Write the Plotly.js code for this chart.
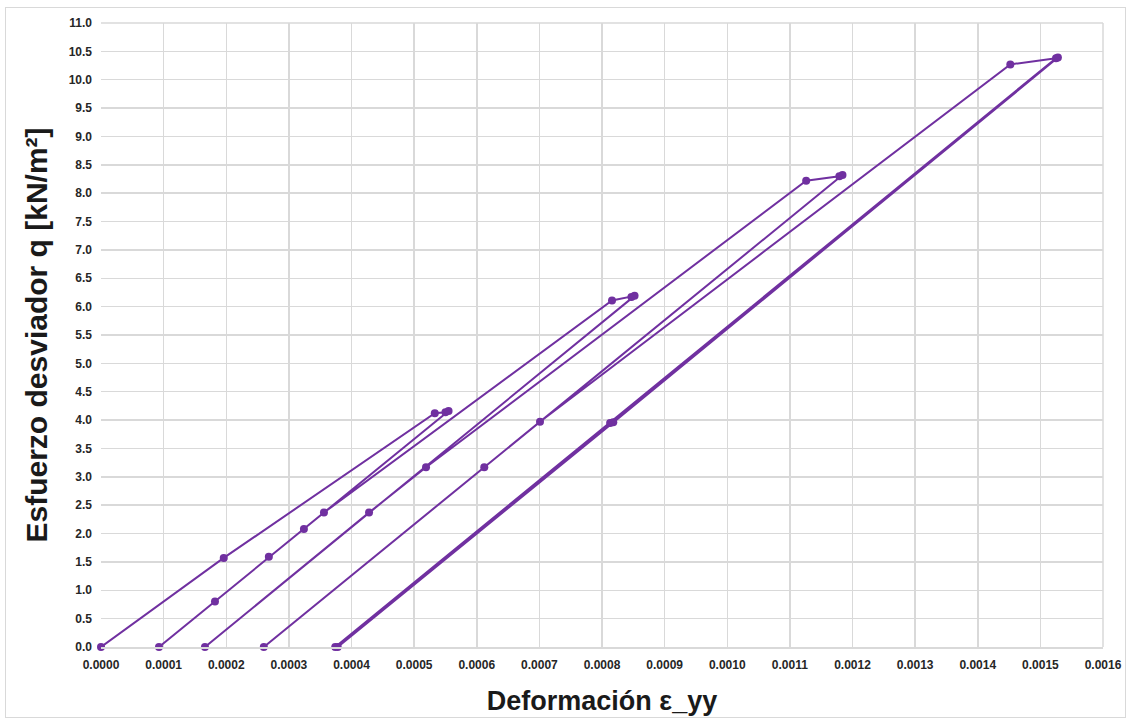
<!DOCTYPE html>
<html>
<head>
<meta charset="utf-8">
<script src="https://cdn.plot.ly/plotly-3.0.1.min.js"></script>
<style>
  html, body { margin: 0; padding: 0; background: #ffffff; }
  #frame { position: absolute; left: 5px; top: 7px; width: 1121px; height: 711px; border: 1px solid #d9d9d9; box-sizing: border-box; }
  #chart { position: absolute; left: 0; top: 0; width: 1132px; height: 724px; }
</style>
</head>
<body>
<div id="frame"></div>
<div id="chart"></div>
<script>
// Deformación ε_yy (strain) and Esfuerzo desviador q [kN/m²], in path order
const strain = [
  0.0000000, 0.000196, 0.000533, 0.000550, 0.000555,
  0.0000926, 0.000182, 0.000268, 0.000324, 0.000356,
  0.000816, 0.000847, 0.000852,
  0.000166, 0.000428, 0.000519,
  0.001126, 0.001179, 0.001184,
  0.000260, 0.000612, 0.000701,
  0.001452, 0.001525,
  0.000374, 0.000813, 0.001528,
  0.000818, 0.000378
];
const stress = [
  0.00, 1.57, 4.12, 4.14, 4.16,
  0.00, 0.80, 1.59, 2.08, 2.37,
  6.11, 6.17, 6.19,
  0.00, 2.37, 3.17,
  8.22, 8.30, 8.32,
  0.00, 3.17, 3.97,
  10.27, 10.38,
  0.00, 3.95, 10.39,
  3.96, 0.00
];

const xTickVals = [0,0.0001,0.0002,0.0003,0.0004,0.0005,0.0006,0.0007,0.0008,0.0009,0.0010,0.0011,0.0012,0.0013,0.0014,0.0015,0.0016];
const yTickVals = [0,0.5,1,1.5,2,2.5,3,3.5,4,4.5,5,5.5,6,6.5,7,7.5,8,8.5,9,9.5,10,10.5,11];

const purple = '#7030A0';
const tickFont = {family: 'Liberation Sans, Arial, sans-serif', size: 12, color: '#262626', weight: 'bold'};

const trace = {
  x: strain, y: stress,
  type: 'scatter', mode: 'lines+markers',
  line: {color: purple, width: 2},
  marker: {color: purple, size: 8},
  hoverinfo: 'x+y', cliponaxis: false
};

const layout = {
  width: 1132, height: 724,
  margin: {l: 101, r: 29, t: 23, b: 77},
  paper_bgcolor: 'rgba(0,0,0,0)', plot_bgcolor: '#ffffff',
  showlegend: false,
  xaxis: {
    range: [0, 0.0016], tickvals: xTickVals, tickformat: '.4f',
    showgrid: true, gridcolor: '#d9d9d9', gridwidth: 1.5,
    zeroline: false, showline: true, linecolor: '#d9d9d9', linewidth: 1.5,
    ticks: '', tickfont: tickFont, ticklabelstandoff: 6,
    title: {text: 'Deformación ε_yy', font: {family: 'Liberation Sans, Arial, sans-serif', size: 27, color: '#1a1a1a', weight: 'bold'}, standoff: 20}
  },
  yaxis: {
    range: [0, 11], tickvals: yTickVals, tickformat: '.1f',
    showgrid: true, gridcolor: '#d9d9d9', gridwidth: 1.5,
    zeroline: false, showline: false,
    ticks: '', tickfont: tickFont, ticklabelstandoff: 8,
    title: {text: 'Esfuerzo desviador q [kN/m²]', font: {family: 'Liberation Sans, Arial, sans-serif', size: 30, color: '#1a1a1a', weight: 'bold'}, standoff: 12}
  },
  shapes: [
    {type: 'line', xref: 'paper', yref: 'paper', x0: 1, x1: 1, y0: 0, y1: 1, line: {color: '#d9d9d9', width: 1.5}},
    {type: 'line', xref: 'paper', yref: 'paper', x0: 0, x1: 1, y0: 1, y1: 1, line: {color: '#d9d9d9', width: 1.5}}
  ]
};

Plotly.newPlot('chart', [trace], layout, {displayModeBar: false, staticPlot: true});
</script>
</body>
</html>
